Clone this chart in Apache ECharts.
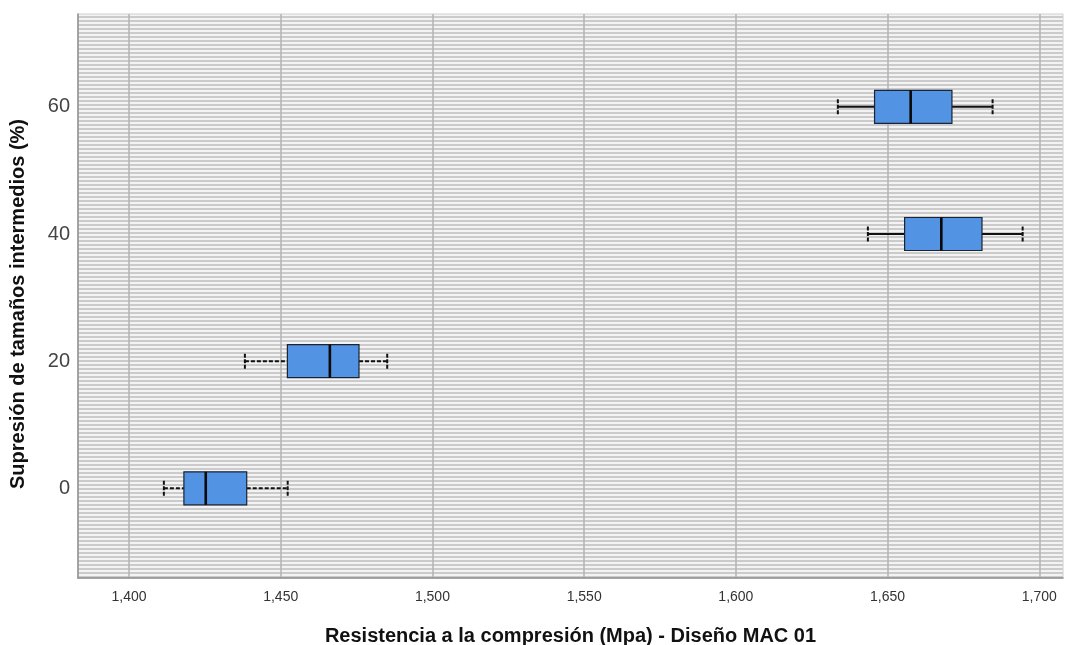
<!DOCTYPE html>
<html>
<head>
<meta charset="utf-8">
<script src="https://cdn.jsdelivr.net/npm/echarts@6/dist/echarts.min.js"></script>
<style>
  html, body { margin: 0; padding: 0; background: #ffffff; }
  #chart { width: 1076px; height: 645px; }
</style>
</head>
<body>
<div id="chart"></div>
<script>
// Five-number summaries of compressive strength per suppression level
const groups  = [0, 20, 40, 60];
const mins    = [1411.5, 1438.2, 1643.5, 1633.6];
const q1s     = [1418.1, 1452.2, 1655.6, 1645.7];
const medians = [1425.3, 1466.2, 1667.7, 1657.6];
const q3s     = [1438.8, 1475.8, 1681.1, 1671.2];
const maxs    = [1452.3, 1485.1, 1694.5, 1684.6];

// Tick labels
const xTicks = [1400, 1450, 1500, 1550, 1600, 1650, 1700];
const yTicks = [0, 20, 40, 60];

// Groups whose whiskers are drawn dashed
const dashedGroups = [0, 20];

const FONT = '"Liberation Sans", Arial, sans-serif';

// Horizontal hatch used as the plot background
function hatchPattern() {
  const c = document.createElement('canvas');
  c.width = 8; c.height = 4;
  const g = c.getContext('2d');
  g.fillStyle = '#f3f3f3';
  g.fillRect(0, 0, 8, 4);
  g.fillStyle = '#cbcbcb';
  g.fillRect(0, 0, 8, 2);
  return { image: c, repeat: 'repeat' };
}

const boxData = groups.map((g, i) => [g, mins[i], q1s[i], medians[i], q3s[i], maxs[i]]);

function renderBox(params, api) {
  const y = api.value(0);
  const vMin = api.value(1), vQ1 = api.value(2), vMed = api.value(3), vQ3 = api.value(4), vMax = api.value(5);
  const pMin = api.coord([vMin, y]);
  const pQ1 = api.coord([vQ1, y]);
  const pMed = api.coord([vMed, y]);
  const pQ3 = api.coord([vQ3, y]);
  const pMax = api.coord([vMax, y]);
  const halfBox = 16.5;
  const halfCap = 7.5;
  const cy = pMed[1];
  const dashed = dashedGroups.indexOf(y) >= 0;
  const whiskerStyle = { stroke: '#111111', lineWidth: 2, lineDash: dashed ? [4, 2] : null };
  const capStyle = { stroke: '#111111', lineWidth: 2, lineDash: [4, 1.5] };
  return {
    type: 'group',
    children: [
      { type: 'line', shape: { x1: pMin[0], y1: cy, x2: pQ1[0], y2: cy }, style: whiskerStyle },
      { type: 'line', shape: { x1: pQ3[0], y1: cy, x2: pMax[0], y2: cy }, style: whiskerStyle },
      { type: 'line', shape: { x1: pMin[0], y1: cy - halfCap, x2: pMin[0], y2: cy + halfCap }, style: capStyle },
      { type: 'line', shape: { x1: pMax[0], y1: cy - halfCap, x2: pMax[0], y2: cy + halfCap }, style: capStyle },
      { type: 'rect', shape: { x: pQ1[0], y: cy - halfBox, width: pQ3[0] - pQ1[0], height: 2 * halfBox },
        style: { fill: '#5393e4', stroke: '#1b2430', lineWidth: 1.2 } },
      { type: 'line', shape: { x1: pMed[0], y1: cy - halfBox, x2: pMed[0], y2: cy + halfBox },
        style: { stroke: '#0a0a0a', lineWidth: 2.6 } }
    ]
  };
}

const chart = echarts.init(document.getElementById('chart'), null, { renderer: 'canvas' });

chart.setOption({
  animation: false,
  backgroundColor: '#ffffff',
  grid: {
    left: 78, right: 13, top: 14, bottom: 67,
    outerBoundsMode: 'none',
    containLabel: false,
    show: true,
    backgroundColor: hatchPattern(),
    borderColor: '#cfcfcf',
    borderWidth: 1
  },
  xAxis: {
    type: 'value',
    min: 1383.2,
    max: 1707.8,
    name: 'Resistencia a la compresión (Mpa) - Diseño MAC 01',
    nameLocation: 'middle',
    nameGap: 48,
    nameTextStyle: { fontFamily: FONT, fontSize: 20, fontWeight: 'bold', color: '#111111' },
    axisLine: { show: true, onZero: false, lineStyle: { color: '#8e8e8e', width: 1.5 } },
    axisTick: { show: false, customValues: xTicks },
    axisLabel: {
      customValues: xTicks,
      margin: 12,
      fontFamily: FONT, fontSize: 14, color: '#333333',
      formatter: v => v.toLocaleString('en-US')
    },
    splitLine: { show: true, lineStyle: { color: '#b3b3b3', width: 1.5 } }
  },
  yAxis: {
    type: 'value',
    min: -14.1,
    max: 74.6,
    name: 'Supresión de tamaños intermedios (%)',
    nameLocation: 'middle',
    nameGap: 50,
    nameRotate: 90,
    nameTextStyle: { fontFamily: FONT, fontSize: 20, fontWeight: 'bold', color: '#111111', padding: [0, 16, 0, 0] },
    axisLine: { show: true, onZero: false, lineStyle: { color: '#8e8e8e', width: 1.5 } },
    axisTick: { show: false, customValues: yTicks },
    axisLabel: {
      customValues: yTicks,
      margin: 8,
      fontFamily: FONT, fontSize: 20, color: '#444444'
    },
    splitLine: { show: false }
  },
  series: [{
    type: 'custom',
    renderItem: renderBox,
    encode: { x: [1, 2, 3, 4, 5], y: 0 },
    data: boxData,
    clip: false
  }]
});
</script>
</body>
</html>
